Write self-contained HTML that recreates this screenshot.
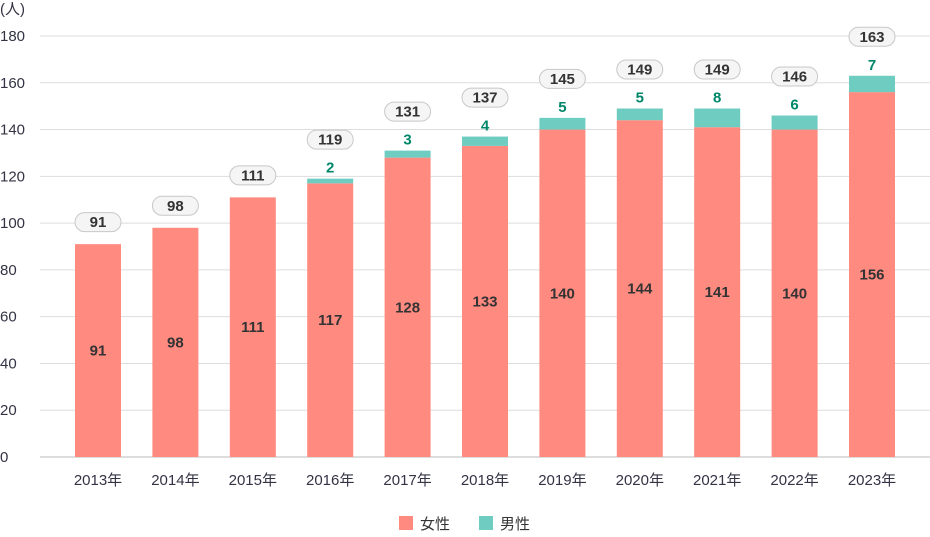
<!DOCTYPE html>
<html><head><meta charset="utf-8"><style>
body{margin:0;background:#fff;font-family:"Liberation Sans","Noto Sans CJK JP",sans-serif}
svg text{font-family:"Liberation Sans","Noto Sans CJK JP",sans-serif}
</style></head><body>
<svg id="c" width="930" height="532" xmlns="http://www.w3.org/2000/svg">
<text x="0" y="14" font-size="15" fill="#334">(人)</text>
<g id="grid"></g><g id="bars"></g>
<g>
<rect x="399" y="516" width="14" height="14" fill="#ff8a80"/>
<text x="420" y="529" font-size="15" fill="#333">女性</text>
<rect x="479" y="516" width="14" height="14" fill="#6ecdc0"/>
<text x="500" y="529" font-size="15" fill="#333">男性</text>
</g>
</svg>
<script>
const categories=["2013年","2014年","2015年","2016年","2017年","2018年","2019年","2020年","2021年","2022年","2023年"];
const female=[91,98,111,117,128,133,140,144,141,140,156];
const male=[0,0,0,2,3,4,5,5,8,6,7];
const totals=[91,98,111,119,131,137,145,149,149,146,163];
const yTicks=[0,20,40,60,80,100,120,140,160,180];
const NS="http://www.w3.org/2000/svg";
const y=v=>457-v*(421/180);
const x=i=>98+i*77.4;
const BW=46;
function mk(t,a,p){const e=document.createElementNS(NS,t);for(const k in a)e.setAttribute(k,a[k]);p.appendChild(e);return e;}
const g=document.getElementById('grid'),b=document.getElementById('bars');
yTicks.forEach(v=>{
 const l=mk('line',{x1:40,x2:930,y1:y(v),y2:y(v),stroke:v===0?'#bbb':'#ddd','stroke-width':1},g);
 
 
 const t=mk('text',{x:0,y:y(v)+5,'font-size':15,fill:'#334'},g);t.textContent=v;
 
 
});
categories.forEach((c,i)=>{
 const cx=x(i);
 const r1=mk('rect',{x:cx-BW/2,y:y(female[i]),width:BW,height:y(0)-y(female[i]),fill:'#ff8a80'},b);
 
 
 const t1=mk('text',{x:cx,y:(y(female[i])+y(0))/2+5,'font-size':15,'font-weight':'bold','text-anchor':'middle',fill:'#333'},b);t1.textContent=female[i];
 
 
 const top=y(female[i]+male[i]);
 let off=22;
 if(male[i]>0){
  const r2=mk('rect',{x:cx-BW/2,y:top,width:BW,height:y(female[i])-top,fill:'#6ecdc0'},b);
  
  
  const t2=mk('text',{x:cx,y:top-6,'font-size':15,'font-weight':'bold','text-anchor':'middle',fill:'#00876a'},b);t2.textContent=male[i];
  
  
  off=39;
 }
 const by=top-off;
 const p=mk('rect',{x:cx-23,y:by-9.5,width:46,height:19,rx:9.5,fill:'#f5f5f5',stroke:'#c8c8c8'},b);
 
 
 const tt=mk('text',{x:cx,y:by+5,'font-size':15,'font-weight':'bold','text-anchor':'middle',fill:'#333'},b);tt.textContent=totals[i];
 
 
 const xl=mk('text',{x:cx,y:485,'font-size':15,'text-anchor':'middle',fill:'#334'},b);xl.textContent=c;
 
 
});
</script>
</body></html>
